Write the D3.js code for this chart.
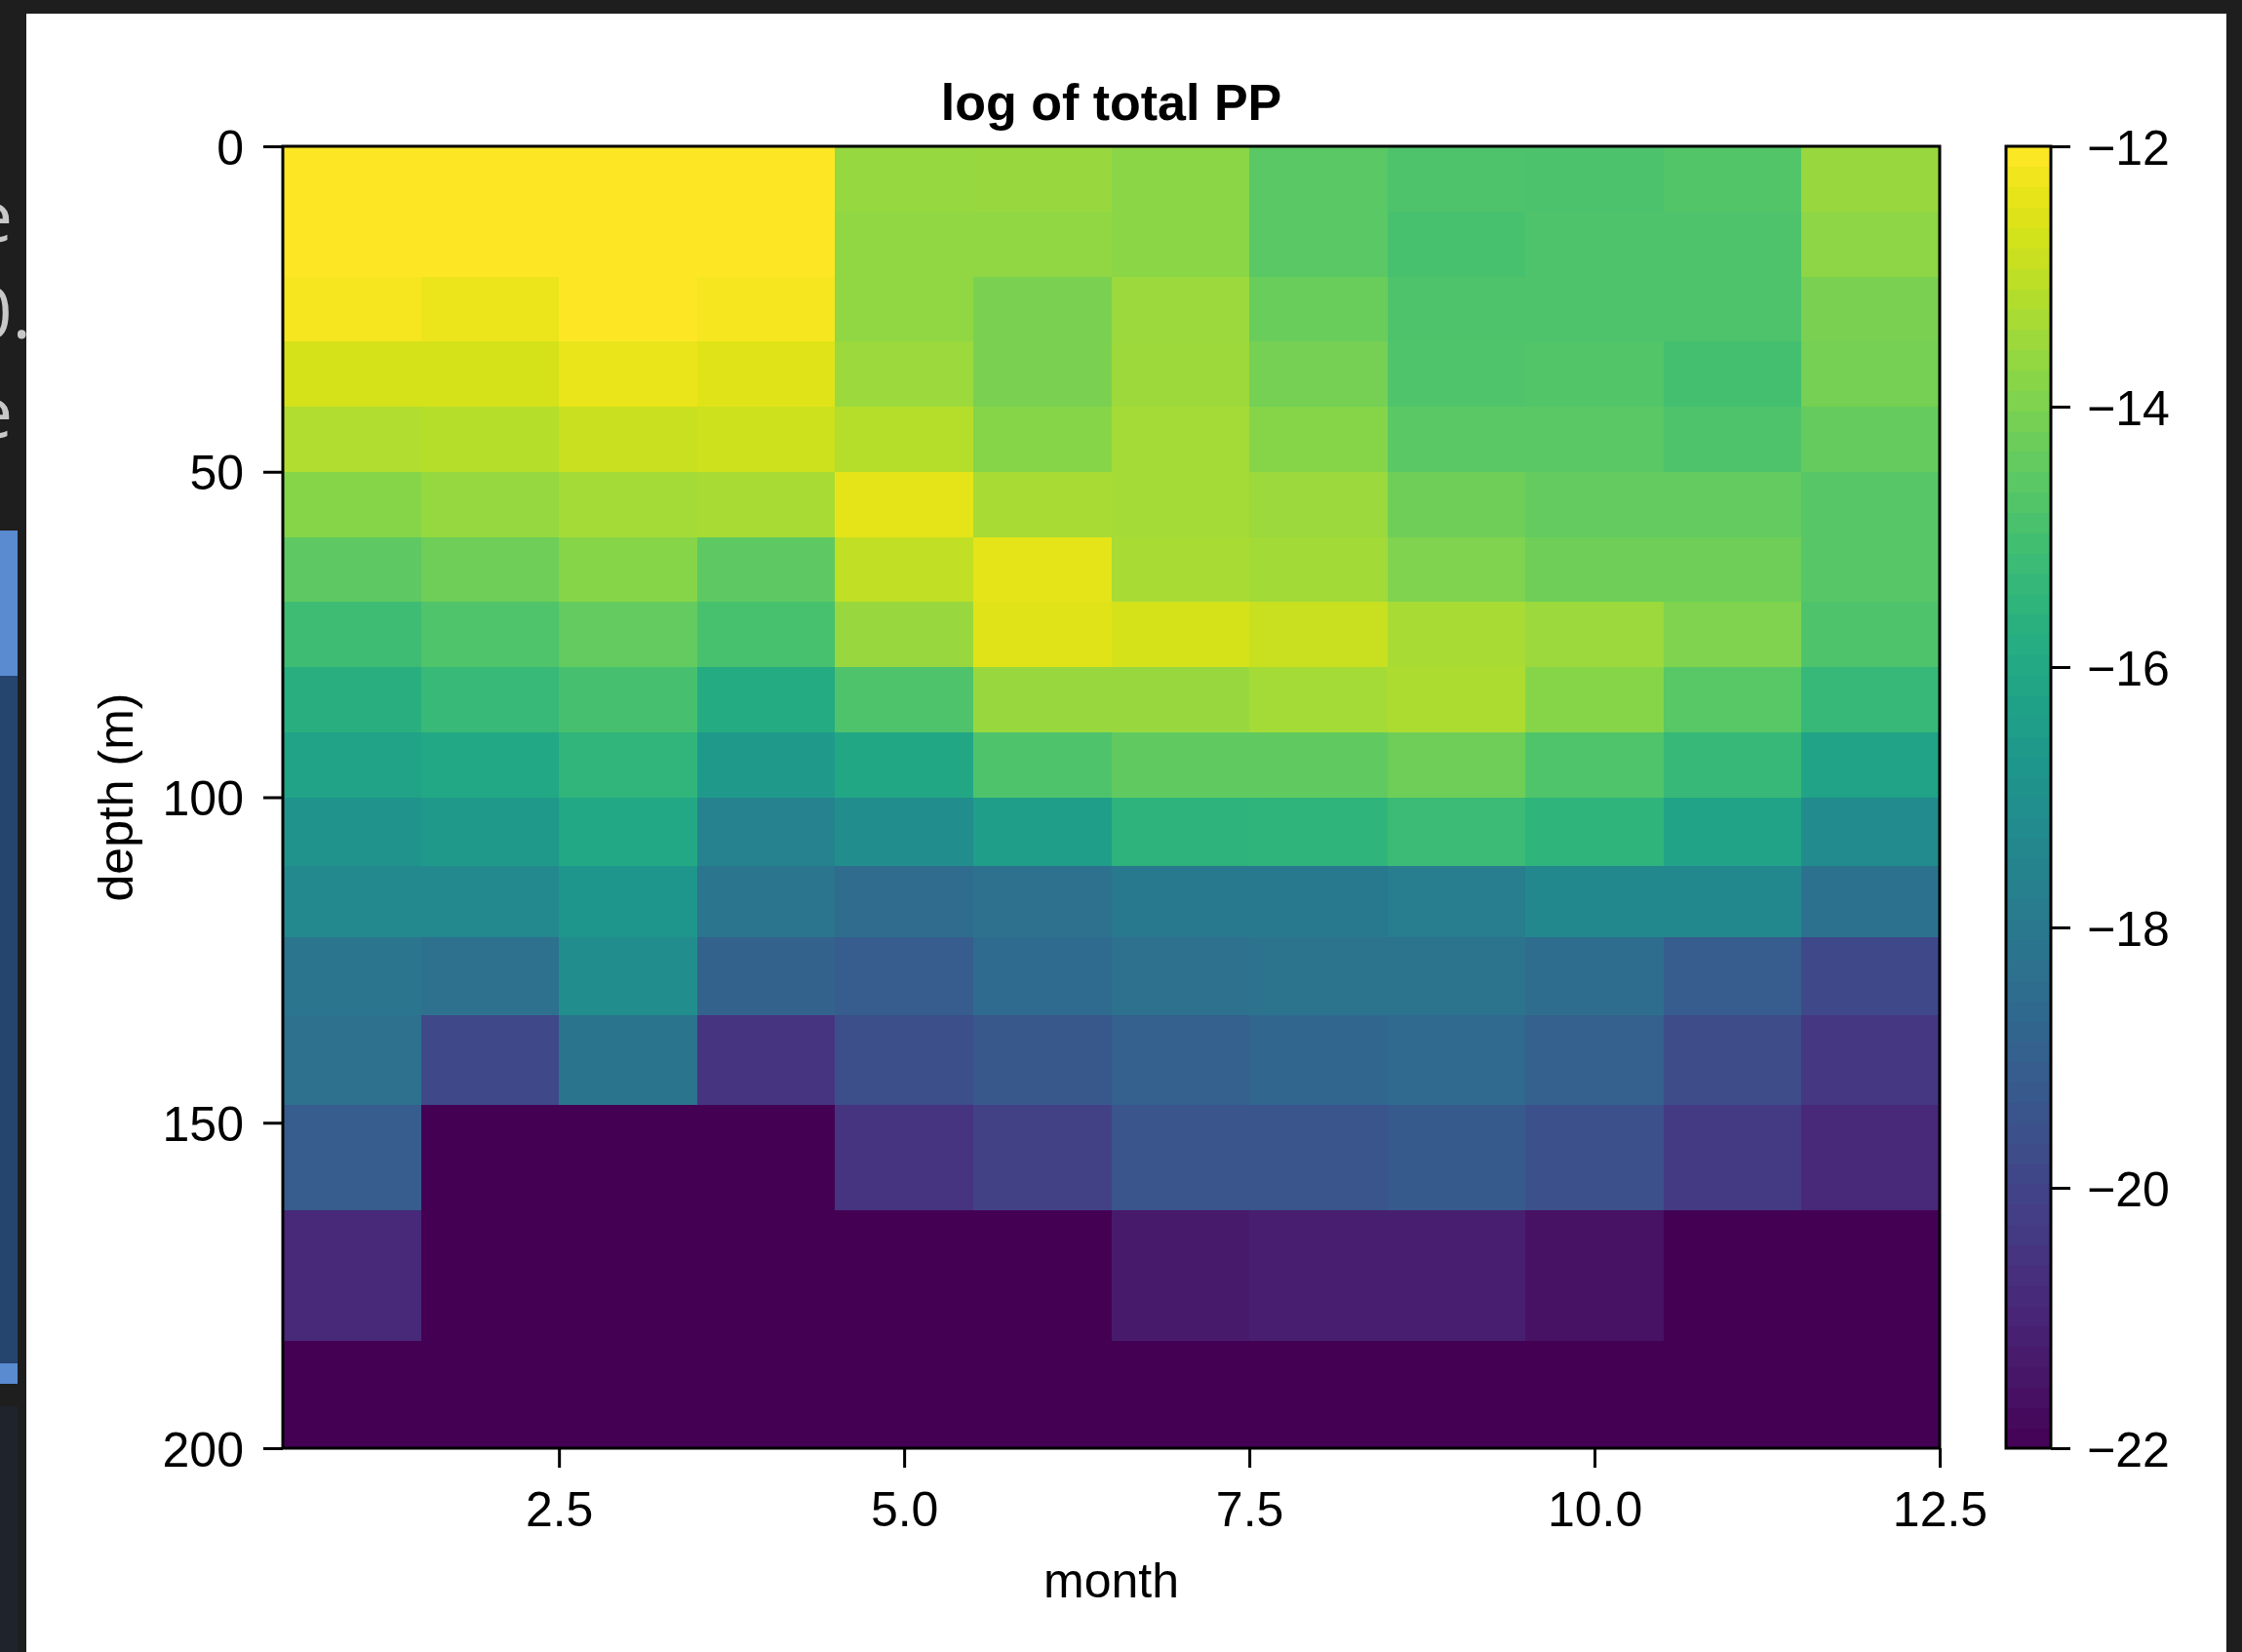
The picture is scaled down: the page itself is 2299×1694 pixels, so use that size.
<!DOCTYPE html>
<html>
<head>
<meta charset="utf-8">
<script src="https://cdn.jsdelivr.net/npm/d3@7"></script>
<style>
  html, body { margin: 0; padding: 0; background: #1e1e1e; overflow: hidden; }
  svg { display: block; }
  text { font-family: "Liberation Sans", Arial, Helvetica, sans-serif; }
</style>
</head>
<body>
<svg id="chart" width="2299" height="1694"></svg>
<script>
// ---------- data ----------
const months = [1, 2, 3, 4, 5, 6, 7, 8, 9, 10, 11, 12];
const depthEdges = [0, 10, 20, 30, 40, 50, 60, 70, 80, 90, 100, 110.5, 121.5, 133.5, 147.25, 163.5, 183.5, 200];
const xTicks = [2.5, 5.0, 7.5, 10.0, 12.5];
const xTickLabels = ["2.5", "5.0", "7.5", "10.0", "12.5"];
const yTicks = [0, 50, 100, 150, 200];
const yTickLabels = ["0", "50", "100", "150", "200"];
const cbTicks = [-12, -14, -16, -18, -20, -22];
const cbTickLabels = ["\u221212", "\u221214", "\u221216", "\u221218", "\u221220", "\u221222"];
const colorLimits = [-22, -12];

// log of total PP, one row per depth bin (top to bottom), one value per month
const logPP = [
  [-12.0, -12.0, -12.0, -12.0, -13.6, -13.55, -13.75, -14.55, -14.8, -14.85, -14.7, -13.55],
  [-12.0, -12.0, -12.0, -12.0, -13.65, -13.65, -13.75, -14.55, -14.9, -14.8, -14.8, -13.7],
  [-12.15, -12.3, -12.0, -12.15, -13.65, -14.0, -13.5, -14.3, -14.8, -14.8, -14.8, -14.0],
  [-12.65, -12.65, -12.35, -12.5, -13.5, -14.0, -13.45, -14.1, -14.75, -14.7, -15.0, -14.1],
  [-13.2, -13.1, -12.85, -12.75, -13.1, -13.8, -13.35, -13.8, -14.55, -14.55, -14.8, -14.35],
  [-13.8, -13.6, -13.35, -13.3, -12.4, -13.3, -13.35, -13.5, -14.2, -14.4, -14.4, -14.65],
  [-14.5, -14.2, -13.8, -14.5, -12.95, -12.4, -13.3, -13.4, -13.95, -14.2, -14.2, -14.65],
  [-15.1, -14.75, -14.4, -14.9, -13.55, -12.5, -12.65, -12.85, -13.3, -13.5, -13.95, -14.8],
  [-15.7, -15.25, -14.95, -15.9, -14.8, -13.55, -13.55, -13.35, -13.25, -13.8, -14.6, -15.3],
  [-16.2, -16.0, -15.45, -16.6, -16.05, -14.8, -14.45, -14.45, -14.2, -14.75, -15.3, -16.2],
  [-16.85, -16.6, -16.0, -17.55, -17.15, -16.45, -15.55, -15.5, -15.2, -15.5, -16.2, -17.2],
  [-17.3, -17.3, -16.75, -18.1, -18.5, -18.3, -17.95, -17.95, -17.8, -17.35, -17.35, -18.25],
  [-18.1, -18.3, -17.1, -18.85, -19.1, -18.55, -18.3, -18.2, -18.2, -18.45, -19.1, -19.85],
  [-18.3, -19.85, -18.15, -20.5, -19.6, -19.3, -18.95, -18.75, -18.6, -18.95, -19.7, -20.4],
  [-19.1, -22.0, -22.0, -22.0, -20.5, -20.05, -19.4, -19.35, -19.2, -19.55, -20.3, -20.9],
  [-20.9, -22.0, -22.0, -22.0, -22.0, -22.0, -21.3, -21.15, -21.15, -21.55, -22.0, -22.0],
  [-22.0, -22.0, -22.0, -22.0, -22.0, -22.0, -22.0, -22.0, -22.0, -22.0, -22.0, -22.0]
];

// ---------- layout ----------
const W = 2299, H = 1694;
const plot = { left: 290, right: 1989, top: 150, bottom: 1485 };
const cbar = { left: 2057, right: 2103, top: 150, bottom: 1485 };

const svg = d3.select("#chart");

// surrounding dark screen and white figure panel
svg.append("rect").attr("x", 0).attr("y", 0).attr("width", W).attr("height", H).attr("fill", "#1e1e1e");
// left-side fragments of the window behind
svg.append("rect").attr("x", 0).attr("y", 544).attr("width", 18).attr("height", 149).attr("fill", "#5a8ad0");
svg.append("rect").attr("x", 0).attr("y", 693).attr("width", 18).attr("height", 705).attr("fill", "#26456e");
svg.append("rect").attr("x", 0).attr("y", 1398).attr("width", 18).attr("height", 21).attr("fill", "#5a8ad0");
svg.append("rect").attr("x", 0).attr("y", 1442).attr("width", 18).attr("height", 252).attr("fill", "#1f232b");
const frag = [["e", 13, 248], ["0.", 32, 347], ["e", 13, 449]];
frag.forEach(f => svg.append("text").text(f[0]).attr("x", f[1]).attr("y", f[2])
  .attr("text-anchor", "end").attr("fill", "#c8c8c8")
  .style("font-family", "'Open Sans', 'DejaVu Sans', sans-serif").style("font-size", "74px"));

svg.append("rect").attr("x", 27).attr("y", 14).attr("width", 2283 - 27).attr("height", H - 14).attr("fill", "#ffffff");

// ---------- scales ----------
const x = d3.scaleLinear().domain([0.5, 12.5]).range([plot.left, plot.right]);
const y = d3.scaleLinear().domain([0, 200]).range([plot.top, plot.bottom]);
const color = d3.scaleSequential(d3.interpolateViridis).domain(colorLimits).clamp(true);
const cy = d3.scaleLinear().domain(colorLimits).range([cbar.bottom, cbar.top]);

// ---------- heatmap ----------
const cells = [];
logPP.forEach((row, r) => row.forEach((v, j) => cells.push({ r, m: months[j], v })));
svg.append("g").selectAll("rect").data(cells).join("rect")
  .attr("x", d => x(d.m - 0.5))
  .attr("y", d => y(depthEdges[d.r]))
  .attr("width", d => x(d.m + 0.5) - x(d.m - 0.5) + 0.6)
  .attr("height", d => y(depthEdges[d.r + 1]) - y(depthEdges[d.r]) + 0.6)
  .attr("fill", d => color(d.v))
  .attr("shape-rendering", "crispEdges");

// ---------- axes ----------
const fontSize = 50;
function styleAxis(g) {
  g.select(".domain").remove();
  g.selectAll(".tick line").attr("stroke", "#000").attr("stroke-width", 3);
  g.selectAll(".tick text").attr("fill", "#000").style("font-size", fontSize + "px")
    .style("font-family", "'Liberation Sans', Arial, Helvetica, sans-serif");
}

const xAxis = svg.append("g").attr("transform", `translate(0,${plot.bottom})`)
  .call(d3.axisBottom(x).tickValues(xTicks).tickFormat((d, i) => xTickLabels[i]).tickSize(20).tickPadding(24));
styleAxis(xAxis);

const yAxis = svg.append("g").attr("transform", `translate(${plot.left},0)`)
  .call(d3.axisLeft(y).tickValues(yTicks).tickFormat((d, i) => yTickLabels[i]).tickSize(20).tickPadding(20));
styleAxis(yAxis);
yAxis.selectAll(".tick text").attr("dy", "0.36em");

// plot frame
svg.append("rect").attr("x", plot.left).attr("y", plot.top)
  .attr("width", plot.right - plot.left).attr("height", plot.bottom - plot.top)
  .attr("fill", "none").attr("stroke", "#000").attr("stroke-width", 3);

// ---------- colorbar ----------
const nSteps = 64;
const steps = d3.range(nSteps).map(i => colorLimits[0] + (colorLimits[1] - colorLimits[0]) * i / nSteps);
const stepSize = (colorLimits[1] - colorLimits[0]) / nSteps;
svg.append("g").selectAll("rect").data(steps).join("rect")
  .attr("x", cbar.left)
  .attr("y", d => cy(d + stepSize))
  .attr("width", cbar.right - cbar.left)
  .attr("height", d => cy(d) - cy(d + stepSize) + 0.6)
  .attr("fill", d => color(d + stepSize / 2))
  .attr("shape-rendering", "crispEdges");

const cAxis = svg.append("g").attr("transform", `translate(${cbar.right},0)`)
  .call(d3.axisRight(cy).tickValues(cbTicks).tickFormat((d, i) => cbTickLabels[i]).tickSize(20).tickPadding(17));
styleAxis(cAxis);
cAxis.selectAll(".tick text").attr("dy", "0.36em");

svg.append("rect").attr("x", cbar.left).attr("y", cbar.top)
  .attr("width", cbar.right - cbar.left).attr("height", cbar.bottom - cbar.top)
  .attr("fill", "none").attr("stroke", "#000").attr("stroke-width", 3);

// ---------- titles ----------
svg.append("text").text("log of total PP")
  .attr("x", (plot.left + plot.right) / 2).attr("y", 123)
  .attr("text-anchor", "middle").attr("fill", "#000")
  .style("font-size", "52px").style("font-weight", "bold");

svg.append("text").text("month")
  .attr("x", (plot.left + plot.right) / 2).attr("y", 1638)
  .attr("text-anchor", "middle").attr("fill", "#000")
  .style("font-size", fontSize + "px");

svg.append("text").text("depth (m)")
  .attr("transform", `translate(136,${(plot.top + plot.bottom) / 2}) rotate(-90)`)
  .attr("text-anchor", "middle").attr("fill", "#000")
  .style("font-size", fontSize + "px");
</script>
</body>
</html>
